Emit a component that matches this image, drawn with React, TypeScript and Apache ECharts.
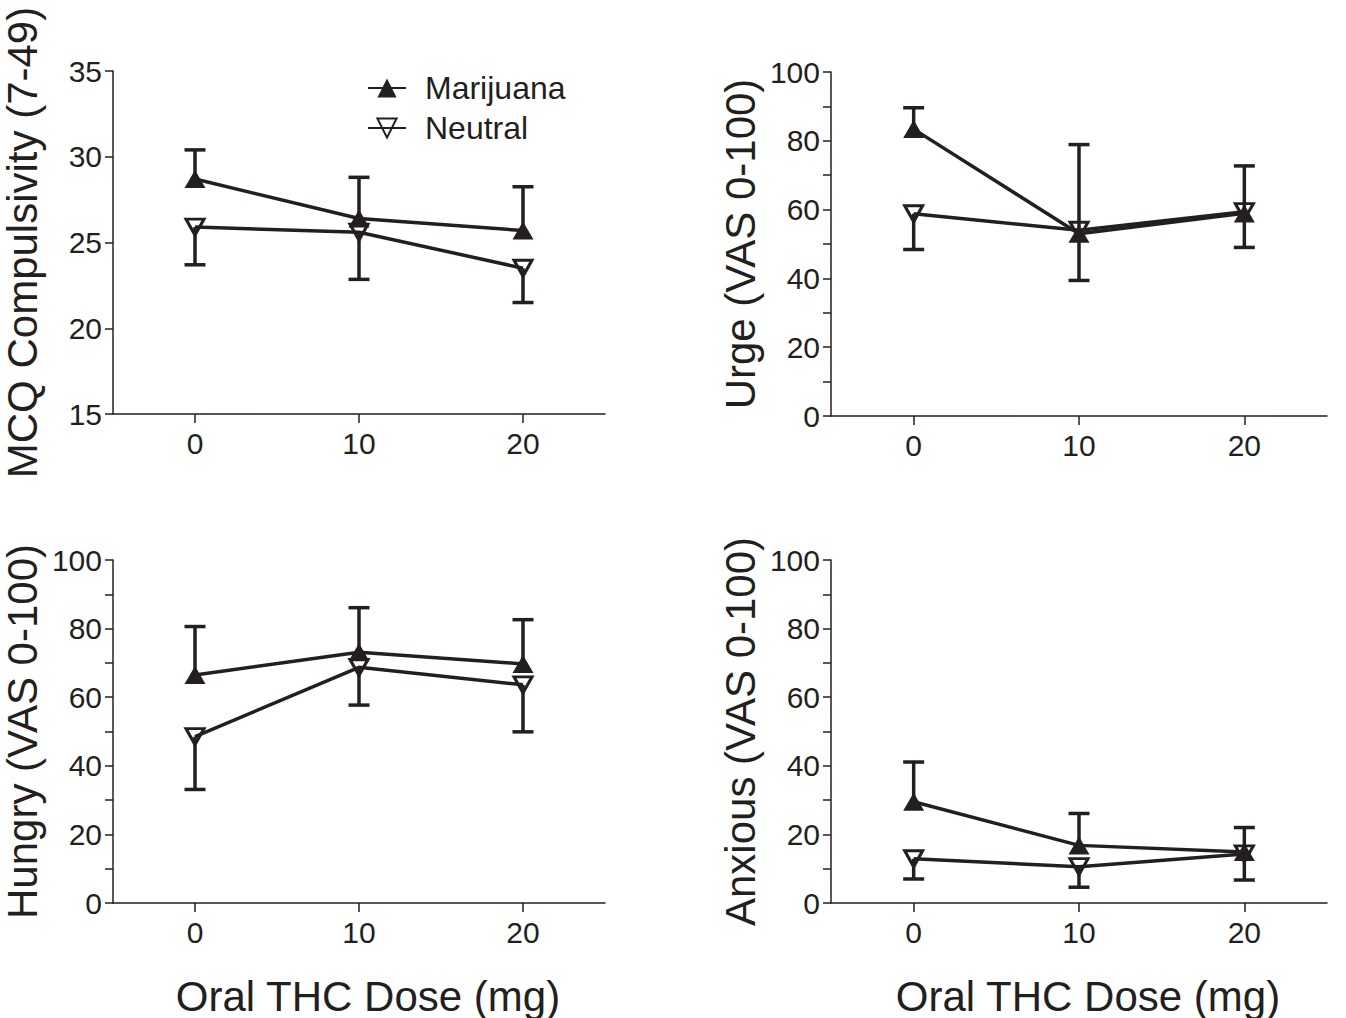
import React, { useEffect, useRef } from "react";
import * as echarts from "echarts";

// Doses (mg) and tick values
const doses = [0, 10, 20];
const doseTicks = [0, 10, 20];

// MCQ Compulsivity (7-49)
const mcqMarijuana = [28.7, 26.4, 25.7];
const mcqMarijuanaErr = [1.7, 2.4, 2.55];
const mcqNeutral = [25.9, 25.6, 23.5];
const mcqNeutralErr = [2.2, 2.75, 2.0];

// Urge (VAS 0-100)
const urgeMarijuana = [83.4, 53.0, 58.9];
const urgeMarijuanaErr = [6.2, 25.9, 13.8];
const urgeNeutral = [58.8, 54.0, 59.4];
const urgeNeutralErr = [10.4, 14.6, 10.4];

// Hungry (VAS 0-100)
const hungryMarijuana = [66.5, 73.1, 69.7];
const hungryMarijuanaErr = [14.1, 13.0, 12.9];
const hungryNeutral = [48.5, 68.7, 63.6];
const hungryNeutralErr = [15.4, 11.0, 13.7];

// Anxious (VAS 0-100)
const anxiousMarijuana = [29.5, 16.8, 14.9];
const anxiousMarijuanaErr = [11.6, 9.3, 7.1];
const anxiousNeutral = [12.9, 10.6, 14.3];
const anxiousNeutralErr = [5.9, 6.0, 7.6];

const seriesNames = ["Marijuana", "Neutral"];
const xTitle = "Oral THC Dose (mg)";

const INK = "#231f20";
const FONT = "'Liberation Sans', Arial, Helvetica, sans-serif";

export default function App() {
  const ref = useRef<HTMLDivElement>(null);

  useEffect(() => {
    if (!ref.current) return;
    const chart = echarts.init(ref.current, null, { renderer: "svg" });

    const panels = [
      {
        yName: "MCQ Compulsivity (7-49)", min: 15, max: 35, interval: 5, step: 5,
        mj: mcqMarijuana, mjE: mcqMarijuanaErr, nt: mcqNeutral, ntE: mcqNeutralErr,
        grid: { left: 109, top: 71, width: 496, height: 343 }, showX: false,
      },
      {
        yName: "Urge (VAS 0-100)", min: 0, max: 100, interval: 10, step: 20,
        mj: urgeMarijuana, mjE: urgeMarijuanaErr, nt: urgeNeutral, ntE: urgeNeutralErr,
        grid: { left: 831, top: 72, width: 496, height: 344 }, showX: false,
      },
      {
        yName: "Hungry (VAS 0-100)", min: 0, max: 100, interval: 10, step: 20,
        mj: hungryMarijuana, mjE: hungryMarijuanaErr, nt: hungryNeutral, ntE: hungryNeutralErr,
        grid: { left: 109, top: 560, width: 496, height: 343 }, showX: true,
      },
      {
        yName: "Anxious (VAS 0-100)", min: 0, max: 100, interval: 10, step: 20,
        mj: anxiousMarijuana, mjE: anxiousMarijuanaErr, nt: anxiousNeutral, ntE: anxiousNeutralErr,
        grid: { left: 831, top: 560, width: 496, height: 343 }, showX: true,
      },
    ];

    const grids: any[] = [];
    const xAxes: any[] = [];
    const yAxes: any[] = [];
    const series: any[] = [];

    const errRender = (sign: number) => (params: any, api: any) => {
      const x = api.value(0);
      const y = api.value(1);
      const e = api.value(2);
      const p0 = api.coord([x, y]);
      const p1 = api.coord([x, y + sign * e]);
      const style = { stroke: INK, lineWidth: 3.5, fill: "none" };
      return {
        type: "group",
        children: [
          { type: "line", shape: { x1: p0[0], y1: p0[1], x2: p1[0], y2: p1[1] }, style },
          { type: "line", shape: { x1: p1[0] - 10.5, y1: p1[1], x2: p1[0] + 10.5, y2: p1[1] }, style },
        ],
      };
    };

    panels.forEach((p, i) => {
      grids.push({ ...p.grid, containLabel: false });
      xAxes.push({
        type: "value",
        gridIndex: i,
        min: -5,
        max: 25,
        name: p.showX ? xTitle : "",
        nameLocation: "middle",
        nameGap: 72,
        nameTextStyle: { fontSize: 42, color: INK, fontFamily: FONT, padding: [0, 0, 0, 18] },
        axisLine: { show: true, onZero: false, lineStyle: { color: INK, width: 1.5 } },
        axisTick: { show: true, length: 9, customValues: doseTicks, lineStyle: { color: INK, width: 1.5 } },
        axisLabel: { customValues: doseTicks, fontSize: 30, color: INK, fontFamily: FONT, margin: 14 },
        splitLine: { show: false },
      });
      yAxes.push({
        type: "value",
        gridIndex: i,
        min: p.min,
        max: p.max,
        interval: p.interval,
        name: p.yName,
        nameLocation: "middle",
        nameGap: 70,
        nameTextStyle: { fontSize: 42, color: INK, fontFamily: FONT },
        axisLine: { show: true, onZero: false, lineStyle: { color: INK, width: 1.5 } },
        axisTick: { show: true, length: 8, lineStyle: { color: INK, width: 1.5 } },
        axisLabel: {
          fontSize: 30,
          color: INK,
          fontFamily: FONT,
          margin: 11,
          formatter: (v: number) => (v % p.step === 0 ? String(v) : ""),
        },
        splitLine: { show: false },
      });

      series.push({
        type: "line",
        name: seriesNames[0],
        xAxisIndex: i,
        yAxisIndex: i,
        data: doses.map((d, k) => [d, p.mj[k]]),
        symbol: "triangle",
        symbolSize: [21, 18],
        lineStyle: { color: INK, width: 3.5 },
        itemStyle: { color: INK, borderColor: INK, borderWidth: 0 },
        z: 3,
      });
      series.push({
        type: "line",
        name: seriesNames[1],
        xAxisIndex: i,
        yAxisIndex: i,
        data: doses.map((d, k) => [d, p.nt[k]]),
        symbol: "triangle",
        symbolRotate: 180,
        symbolSize: [18, 16],
        lineStyle: { color: INK, width: 3.5 },
        itemStyle: { color: "rgba(255,255,255,0)", borderColor: INK, borderWidth: 3 },
        z: 4,
      });
      series.push({
        type: "custom",
        name: seriesNames[0] + " SEM",
        xAxisIndex: i,
        yAxisIndex: i,
        renderItem: errRender(1),
        encode: { x: 0, y: 1 },
        data: doses.map((d, k) => [d, p.mj[k], p.mjE[k]]),
        z: 1,
        silent: true,
      });
      series.push({
        type: "custom",
        name: seriesNames[1] + " SEM",
        xAxisIndex: i,
        yAxisIndex: i,
        renderItem: errRender(-1),
        encode: { x: 0, y: 1 },
        data: doses.map((d, k) => [d, p.nt[k], p.ntE[k]]),
        z: 1,
        silent: true,
      });
    });

    chart.setOption({
      animation: false,
      backgroundColor: "#ffffff",
      textStyle: { fontFamily: FONT, color: INK },
      legend: {
        data: seriesNames,
        orient: "vertical",
        left: 362,
        top: 67,
        itemWidth: 38,
        itemHeight: 24,
        itemGap: 8,
        textStyle: { fontSize: 32, color: INK, fontFamily: FONT, lineHeight: 32, padding: [0, 0, 0, 14] },
        selectedMode: false,
      },
      grid: grids,
      xAxis: xAxes,
      yAxis: yAxes,
      series,
    });

    return () => chart.dispose();
  }, []);

  return (
    <div
      ref={ref}
      style={{ position: "fixed", left: 0, top: 0, width: 1346, height: 1018, background: "#fff" }}
    />
  );
}
